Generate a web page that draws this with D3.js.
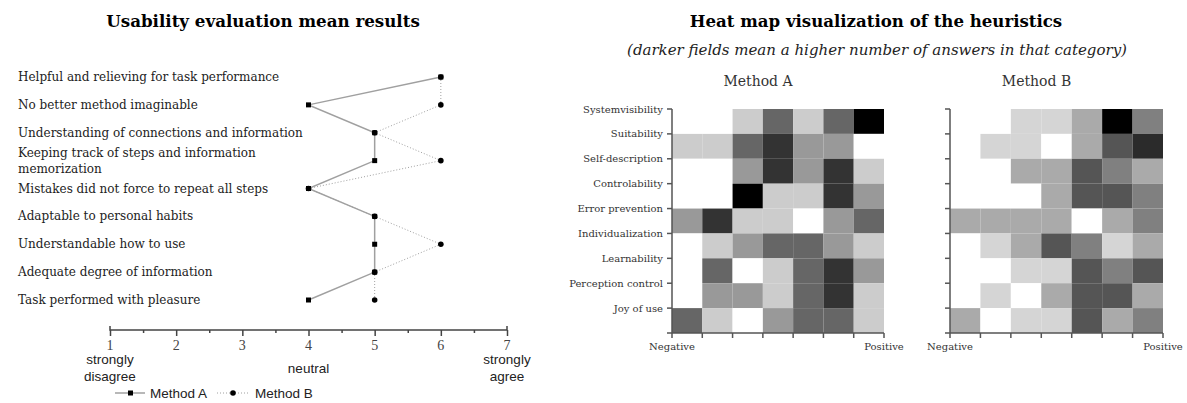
<!DOCTYPE html>
<html>
<head>
<meta charset="utf-8">
<script src="https://cdn.jsdelivr.net/npm/d3@7"></script>
<style>
  body { margin: 0; background: #fff; }
  svg { display: block; }
</style>
</head>
<body>
<svg id="chart" width="1187" height="403"></svg>
<script>
// Left chart: mean answers per statement (1..7 scale)
const questions = [
  "Helpful and relieving for task performance",
  "No better method imaginable",
  "Understanding of connections and information",
  "Keeping track of steps and information|memorization",
  "Mistakes did not force to repeat all steps",
  "Adaptable to personal habits",
  "Understandable how to use",
  "Adequate degree of information",
  "Task performed with pleasure",
];
const methodA = [6, 4, 5, 5, 4, 5, 5, 5, 4];
const methodB = [6, 6, 5, 6, 4, 5, 6, 5, 5];
const scaleTicks = [1, 2, 3, 4, 5, 6, 7];
const anchorLabels = [
  { v: 1, lines: ["strongly", "disagree"] },
  { v: 4, lines: ["neutral"] },
  { v: 7, lines: ["strongly", "agree"] },
];

// Right chart: number of answers per heuristic, 7 columns Negative -> Positive
const heuristics = [
  "Systemvisibility", "Suitability", "Self-description", "Controlability",
  "Error prevention", "Individualization", "Learnability",
  "Perception control", "Joy of use",
];
const countsA = [
  [0, 0, 1, 3, 1, 3, 5],
  [1, 1, 3, 4, 2, 2, 0],
  [0, 0, 2, 4, 2, 4, 1],
  [0, 0, 5, 1, 1, 4, 2],
  [2, 4, 1, 1, 0, 2, 3],
  [0, 1, 2, 3, 3, 2, 1],
  [0, 3, 0, 1, 3, 4, 2],
  [0, 2, 2, 1, 3, 4, 1],
  [3, 1, 0, 2, 3, 3, 1],
];
const countsB = [
  [0, 0, 1, 1, 2, 6, 3],
  [0, 1, 1, 0, 2, 4, 5],
  [0, 0, 2, 2, 4, 3, 2],
  [0, 0, 0, 2, 4, 4, 3],
  [2, 2, 2, 2, 0, 2, 3],
  [0, 1, 2, 4, 3, 1, 2],
  [0, 0, 1, 1, 4, 3, 4],
  [0, 1, 0, 2, 4, 4, 2],
  [2, 0, 1, 1, 4, 2, 3],
];

const SERIF = "'DejaVu Serif', serif";
const SANS = "'Liberation Sans', Arial, sans-serif";

const svg = d3.select("#chart");

function renderMeanResults() {
  const g = svg.append("g");

  g.append("text")
    .attr("x", 263).attr("y", 21)
    .attr("text-anchor", "middle").attr("dominant-baseline", "central")
    .style("font-family", SERIF).style("font-weight", "bold").style("font-size", "16.7px")
    .text("Usability evaluation mean results");

  const x = d3.scaleLinear().domain([1, 7]).range([110, 507]);
  const y = d3.scalePoint().domain(d3.range(questions.length)).range([77, 300]);

  // statement labels
  questions.forEach((q, i) => {
    const lines = q.split("|");
    const t = g.append("text")
      .attr("x", 18)
      .attr("y", y(i) - (lines.length - 1) * 8)
      .attr("dominant-baseline", "central")
      .style("font-family", SERIF).style("font-size", "12px").style("fill", "#222");
    lines.forEach((l, k) => {
      t.append("tspan").attr("x", 18).attr("dy", k === 0 ? 0 : 16).text(l);
    });
  });

  const lineA = d3.line().x((d) => x(d)).y((d, i) => y(i));

  g.append("path")
    .datum(methodA)
    .attr("d", lineA)
    .attr("fill", "none").attr("stroke", "#a0a0a0").attr("stroke-width", 1.5);

  g.append("path")
    .datum(methodB)
    .attr("d", lineA)
    .attr("fill", "none").attr("stroke", "#a0a0a0").attr("stroke-width", 1)
    .attr("stroke-dasharray", "1,2");

  g.selectAll(".ptA")
    .data(methodA)
    .enter()
    .append("rect")
    .attr("x", (d) => x(d) - 2.5).attr("y", (d, i) => y(i) - 2.5)
    .attr("width", 5).attr("height", 5).attr("fill", "#000");

  g.selectAll(".ptB")
    .data(methodB)
    .enter()
    .append("circle")
    .attr("cx", (d) => x(d)).attr("cy", (d, i) => y(i))
    .attr("r", 2.8).attr("fill", "#000");

  // scale axis with half-step minor ticks
  const axisY = 330;
  const axis = g.append("g").attr("transform", `translate(0,${axisY})`);
  axis.call(d3.axisBottom(x).tickValues(d3.range(1, 7.01, 0.5)).tickSize(3).tickFormat(""));
  axis.select(".domain").attr("stroke", "#444").attr("stroke-width", 1.5).attr("d", `M${x(1)},-4V0H${x(7)}V-4`);
  axis.selectAll(".tick line").attr("stroke", "#444").attr("stroke-width", 1.5)
    .attr("y1", 0).attr("y2", (d) => (Number.isInteger(d) ? 6 : 3));

  g.selectAll(".tickLabel")
    .data(scaleTicks)
    .enter()
    .append("text")
    .attr("x", (d) => x(d)).attr("y", axisY + 15)
    .attr("text-anchor", "middle").attr("dominant-baseline", "central")
    .style("font-family", "'Liberation Serif', serif").style("font-size", "14px").style("fill", "#444")
    .text((d) => d);

  anchorLabels.forEach((a) => {
    const t = g.append("text")
      .attr("text-anchor", "middle")
      .style("font-family", SANS).style("font-size", "13.5px").style("fill", "#222");
    const top = a.lines.length === 1 ? 368 : 359;
    a.lines.forEach((l, k) => {
      t.append("tspan").attr("x", x(a.v)).attr("y", top + k * 17)
        .attr("dominant-baseline", "central").text(l);
    });
  });

  // legend
  const ly = 393;
  const leg = g.append("g");
  leg.append("line").attr("x1", 115).attr("x2", 145).attr("y1", ly).attr("y2", ly)
    .attr("stroke", "#a0a0a0").attr("stroke-width", 1.5);
  leg.append("rect").attr("x", 128).attr("y", ly - 2.5).attr("width", 5).attr("height", 5).attr("fill", "#000");
  leg.append("text").attr("x", 150).attr("y", ly).attr("dominant-baseline", "central")
    .style("font-family", SANS).style("font-size", "13.5px").style("fill", "#222").text("Method A");
  leg.append("line").attr("x1", 217).attr("x2", 249).attr("y1", ly).attr("y2", ly)
    .attr("stroke", "#a0a0a0").attr("stroke-width", 1).attr("stroke-dasharray", "1,2");
  leg.append("circle").attr("cx", 233).attr("cy", ly).attr("r", 2.8).attr("fill", "#000");
  leg.append("text").attr("x", 255).attr("y", ly).attr("dominant-baseline", "central")
    .style("font-family", SANS).style("font-size", "13.5px").style("fill", "#222").text("Method B");
}

function renderHeatMap(counts, x0, x1, title, showLabels) {
  const g = svg.append("g");
  const top = 109, bottom = 333;

  const x = d3.scaleBand().domain(d3.range(7)).range([x0, x1]).paddingInner(0);
  const y = d3.scaleBand().domain(heuristics).range([top, bottom]);
  const color = d3.scaleLinear()
    .domain([0, d3.max(counts.flat())])
    .range(["#ffffff", "#000000"]);

  g.append("text")
    .attr("x", (x0 + x1) / 2 - 20).attr("y", 81)
    .attr("text-anchor", "middle").attr("dominant-baseline", "central")
    .style("font-family", SERIF).style("font-size", "14px").style("fill", "#333")
    .text(title);

  counts.forEach((row, r) => {
    g.selectAll(null)
      .data(row)
      .enter()
      .append("rect")
      .attr("x", (d, c) => x(c)).attr("y", y(heuristics[r]))
      .attr("width", x.bandwidth()).attr("height", y.bandwidth())
      .attr("fill", (d) => color(d));
  });

  // y axis: ticks sit on the top edge of each row
  const yAxis = g.append("g").attr("transform", `translate(${x0},0)`);
  yAxis.append("line").attr("x1", 0).attr("x2", 0).attr("y1", top).attr("y2", bottom)
    .attr("stroke", "#555").attr("stroke-width", 1.5);
  heuristics.forEach((h) => {
    yAxis.append("line").attr("x1", -5).attr("x2", 0).attr("y1", y(h)).attr("y2", y(h))
      .attr("stroke", "#555").attr("stroke-width", 1.5);
    if (showLabels) {
      yAxis.append("text").attr("x", -9).attr("y", y(h))
        .attr("text-anchor", "end").attr("dominant-baseline", "central")
        .style("font-family", SERIF).style("font-size", "10px").style("fill", "#333")
        .text(h);
    }
  });
  yAxis.append("line").attr("x1", -5).attr("x2", 0).attr("y1", bottom).attr("y2", bottom)
    .attr("stroke", "#555").attr("stroke-width", 1.5);

  // x axis: ticks at column boundaries
  const xAxis = g.append("g").attr("transform", `translate(0,${bottom})`);
  xAxis.append("line").attr("x1", x0).attr("x2", x1).attr("y1", 0).attr("y2", 0)
    .attr("stroke", "#555").attr("stroke-width", 1.5);
  d3.range(8).forEach((c) => {
    const xv = c < 7 ? x(c) : x1;
    xAxis.append("line").attr("x1", xv).attr("x2", xv).attr("y1", 0).attr("y2", 5)
      .attr("stroke", "#555").attr("stroke-width", 1.5);
  });
  xAxis.append("text").attr("x", x0).attr("y", 13)
    .attr("text-anchor", "middle").attr("dominant-baseline", "central")
    .style("font-family", SERIF).style("font-size", "10px").style("fill", "#333").text("Negative");
  xAxis.append("text").attr("x", x1).attr("y", 13)
    .attr("text-anchor", "middle").attr("dominant-baseline", "central")
    .style("font-family", SERIF).style("font-size", "10px").style("fill", "#333").text("Positive");
}

function renderHeatTitles() {
  svg.append("text")
    .attr("x", 876).attr("y", 21)
    .attr("text-anchor", "middle").attr("dominant-baseline", "central")
    .style("font-family", SERIF).style("font-weight", "bold").style("font-size", "16.6px")
    .text("Heat map visualization of the heuristics");
  svg.append("text")
    .attr("x", 877).attr("y", 50)
    .attr("text-anchor", "middle").attr("dominant-baseline", "central")
    .style("font-family", SERIF).style("font-style", "italic").style("font-size", "15px").style("fill", "#222")
    .text("(darker fields mean a higher number of answers in that category)");
}

renderMeanResults();
renderHeatTitles();
renderHeatMap(countsA, 672, 884, "Method A", true);
renderHeatMap(countsB, 950, 1163, "Method B", false);
</script>
</body>
</html>
